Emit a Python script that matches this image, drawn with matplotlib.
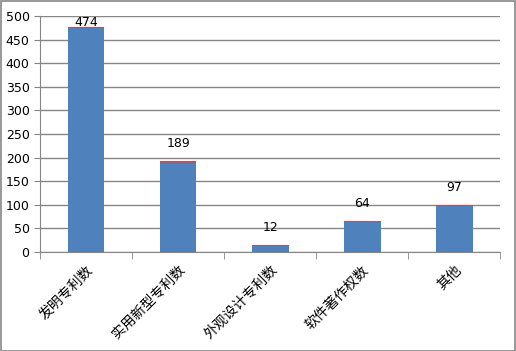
import matplotlib.pyplot as plt
import numpy as np

plt.rcParams['font.family'] = ['DejaVu Sans', 'Noto Sans CJK SC']

categories = ['发明专利数', '实用新型专利数', '外观设计专利数', '软件著作权数', '其他']
main_values = [474, 189, 12, 64, 97]
extra_values = [2, 3, 3, 2, 3]
labels = ['474', '189', '12', '64', '97']

fig = plt.figure(figsize=(5.16, 3.51), dpi=100)
ax = fig.add_axes([0.0775, 0.282, 0.892, 0.672])

x = np.arange(len(categories))
ax.bar(x, main_values, width=0.4, color='#4F81BD', zorder=3)
ax.bar(x, extra_values, width=0.4, bottom=main_values, color='#C0504D', zorder=3)

for xi, v, e, t in zip(x, main_values, extra_values, labels):
    ax.annotate(t, (xi, v + e), xytext=(0, -1 if v > 400 else 8), textcoords='offset points',
                ha='center', va='bottom', fontsize=9, color='black', zorder=4)

ax.set_xlim(-0.5, len(categories) - 0.5)
ax.set_ylim(0, 500)
ax.set_yticks(range(0, 501, 50))
ax.yaxis.grid(True, color='#868686', linewidth=1, zorder=0)
ax.set_xticks(x)
ax.set_xticklabels(categories, rotation=45, ha='right', rotation_mode='anchor', fontsize=10,
                   family=['Noto Sans CJK SC', 'DejaVu Sans'])
ax.set_xticks(np.arange(-0.5, len(categories), 1), minor=True)
ax.tick_params(axis='x', which='major', length=0, pad=8)
ax.tick_params(axis='x', which='minor', length=5, color='#868686')
ax.tick_params(axis='y', length=4, color='#868686', labelsize=9)
for s in ['top', 'right']:
    ax.spines[s].set_visible(False)
for s in ['left', 'bottom']:
    ax.spines[s].set_color('#868686')

fig.patches.append(plt.Rectangle((0.001, 0.001), 0.997, 0.997, transform=fig.transFigure,
                                 fill=False, edgecolor='#868686', linewidth=1.2))
fig.savefig('out.png', dpi=100)
